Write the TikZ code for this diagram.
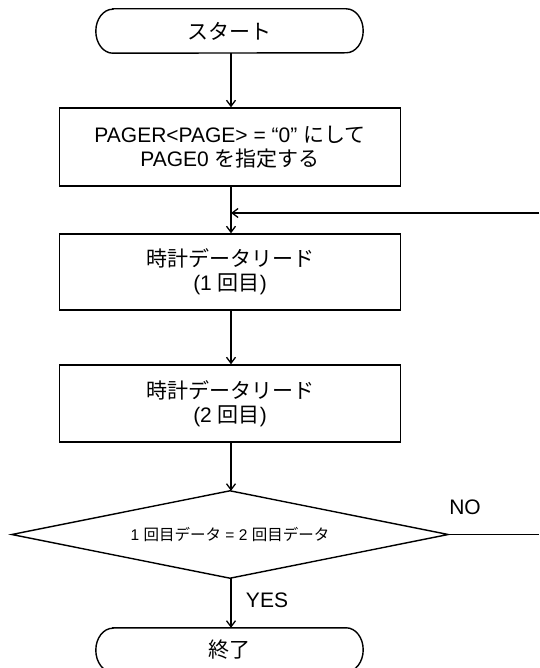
\documentclass[tikz,border=0pt]{standalone}
\usepackage{fontspec}
\setmainfont{Liberation Sans}
\newfontfamily\jp{Noto Sans CJK JP}
\usetikzlibrary{arrows.meta}
\begin{document}
\begin{tikzpicture}[x=1pt,y=-1pt,
  every node/.style={font=\fontsize{21}{24}\selectfont},
  termbox/.style={draw=none,minimum width=267pt,minimum height=44pt,inner sep=0pt},
  procbox/.style={draw,line width=1.4pt,rectangle,minimum width=341pt,minimum height=77pt,align=center,inner sep=0pt},
  decbox/.style={draw=none,rectangle,minimum width=436pt,minimum height=87pt,inner sep=0pt,font=\fontsize{15.5}{18}\selectfont},
  outline/.style={line width=1.4pt},
  flow/.style={line width=1.3pt,-{Straight Barb[length=6pt,width=9pt,line width=1.3pt]}},
  plain/.style={line width=1.3pt},
  lbl/.style={inner sep=0pt}]
\useasboundingbox (0,0) rectangle (539,668);
% start terminal
\node[termbox] (start) at (229.5,31) {{\jp スタート}};
\draw[outline] ([xshift=17pt]start.north west) -- ([xshift=-17pt]start.north east)
  arc[start angle=90,end angle=-90,x radius=17pt,y radius=22pt]
  -- ([xshift=17pt]start.south west)
  arc[start angle=270,end angle=90,x radius=17pt,y radius=22pt] -- cycle;
% process boxes
\node[procbox,minimum height=78pt] (b1) at (230,147) {PAGER<PAGE> = “0” {\jp にして}\\PAGE0 {\jp を指定する}};
\node[procbox,minimum height=76pt] (b2) at (230,272) {{\jp 時計データリード}\\(1 {\jp 回目})};
\node[procbox,minimum height=77pt] (b3) at (230,403.5) {{\jp 時計データリード}\\(2 {\jp 回目})};
% decision
\node[decbox] (dia) at (230,534.5) {1 {\jp 回目データ} = 2 {\jp 回目データ}};
\draw[outline] (dia.north) -- (dia.east) -- (dia.south) -- (dia.west) -- cycle;
% end terminal
\node[termbox] (fin) at (229.5,650) {{\jp 終了}};
\draw[outline] ([xshift=17pt]fin.north west) -- ([xshift=-17pt]fin.north east)
  arc[start angle=90,end angle=-90,x radius=17pt,y radius=22pt]
  -- ([xshift=17pt]fin.south west)
  arc[start angle=270,end angle=90,x radius=17pt,y radius=22pt] -- cycle;
% connectors
\coordinate (join) at (231,213);
\coordinate (rtop) at (539,213);
\coordinate (rbot) at (539,534.5);
\draw[flow] (start.south -| join) -- (b1.north -| join);
\draw[plain] (b1.south -| join) -- (join);
\draw[flow] (join) -- (b2.north -| join);
\draw[flow] (rtop) -- (join);
\draw[flow] (b2.south -| join) -- (b3.north -| join);
\draw[flow] (b3.south -| join) -- (dia.north -| join);
\draw[flow] (dia.south -| join) -- (fin.north -| join);
\draw[plain] (dia.east) -- (rbot);
% labels
\node[lbl] (no) at (465,507) {NO};
\node[lbl] (yes) at (267,600) {YES};
\end{tikzpicture}
\end{document}
